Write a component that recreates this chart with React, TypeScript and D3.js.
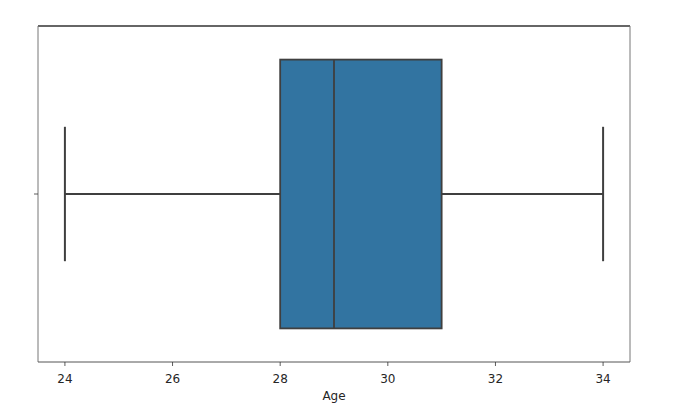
import React from "react";
import * as d3 from "d3";

const stats = { min: 24, q1: 28, median: 29, q3: 31, max: 34 };
const xTicks = [24, 26, 28, 30, 32, 34];
const xLabel = "Age";

export default function App() {
  const W = 700, H = 409;
  const left = 38, right = 630, top = 26, bottom = 362;
  const x = d3.scaleLinear().domain([23.5, 34.5]).range([left, right]);
  const y = d3.scaleLinear().domain([-0.5, 0.5]).range([top, bottom]);
  const half = 0.4;
  const capHalf = 0.2;
  const edge = "#3f3f3f";
  return (
    <svg width={W} height={H} style={{ position: "absolute", left: 0, top: 0, background: "#fff" }}
      fontFamily="DejaVu Sans, sans-serif">
      <rect x={0} y={0} width={W} height={H} fill="#fff" />
      {/* whiskers */}
      <line x1={x(stats.min)} x2={x(stats.q1)} y1={y(0)} y2={y(0)} stroke={edge} strokeWidth={1.8} />
      <line x1={x(stats.q3)} x2={x(stats.max)} y1={y(0)} y2={y(0)} stroke={edge} strokeWidth={1.8} />
      <line x1={x(stats.min)} x2={x(stats.min)} y1={y(-capHalf)} y2={y(capHalf)} stroke={edge} strokeWidth={2} />
      <line x1={x(stats.max)} x2={x(stats.max)} y1={y(-capHalf)} y2={y(capHalf)} stroke={edge} strokeWidth={2} />
      {/* box */}
      <rect x={x(stats.q1)} y={y(-half)} width={x(stats.q3) - x(stats.q1)} height={y(half) - y(-half)}
        fill="#3274a1" stroke={edge} strokeWidth={1.8} />
      <line x1={x(stats.median)} x2={x(stats.median)} y1={y(-half)} y2={y(half)} stroke={edge} strokeWidth={1.8} />
      {/* spines */}
      <line x1={left} x2={right} y1={top} y2={top} stroke="#333" strokeWidth={1.5} />
      <line x1={left} x2={left} y1={top} y2={bottom} stroke="#777" strokeWidth={1} />
      <line x1={right} x2={right} y1={top} y2={bottom} stroke="#777" strokeWidth={1} />
      <line x1={left} x2={right} y1={bottom} y2={bottom} stroke="#555" strokeWidth={1} />
      {/* y tick */}
      <line x1={left - 4} x2={left} y1={y(0)} y2={y(0)} stroke="#333" strokeWidth={0.8} />
      {/* x ticks */}
      {xTicks.map((t) => (
        <g key={t}>
          <line x1={x(t)} x2={x(t)} y1={bottom} y2={bottom + 4} stroke="#333" strokeWidth={0.8} />
          <text x={x(t)} y={bottom + 21} textAnchor="middle" fontSize={12} fill="#262626">{t}</text>
        </g>
      ))}
      <text x={(left + right) / 2} y={bottom + 38} textAnchor="middle" fontSize={12} fill="#262626">{xLabel}</text>
    </svg>
  );
}
